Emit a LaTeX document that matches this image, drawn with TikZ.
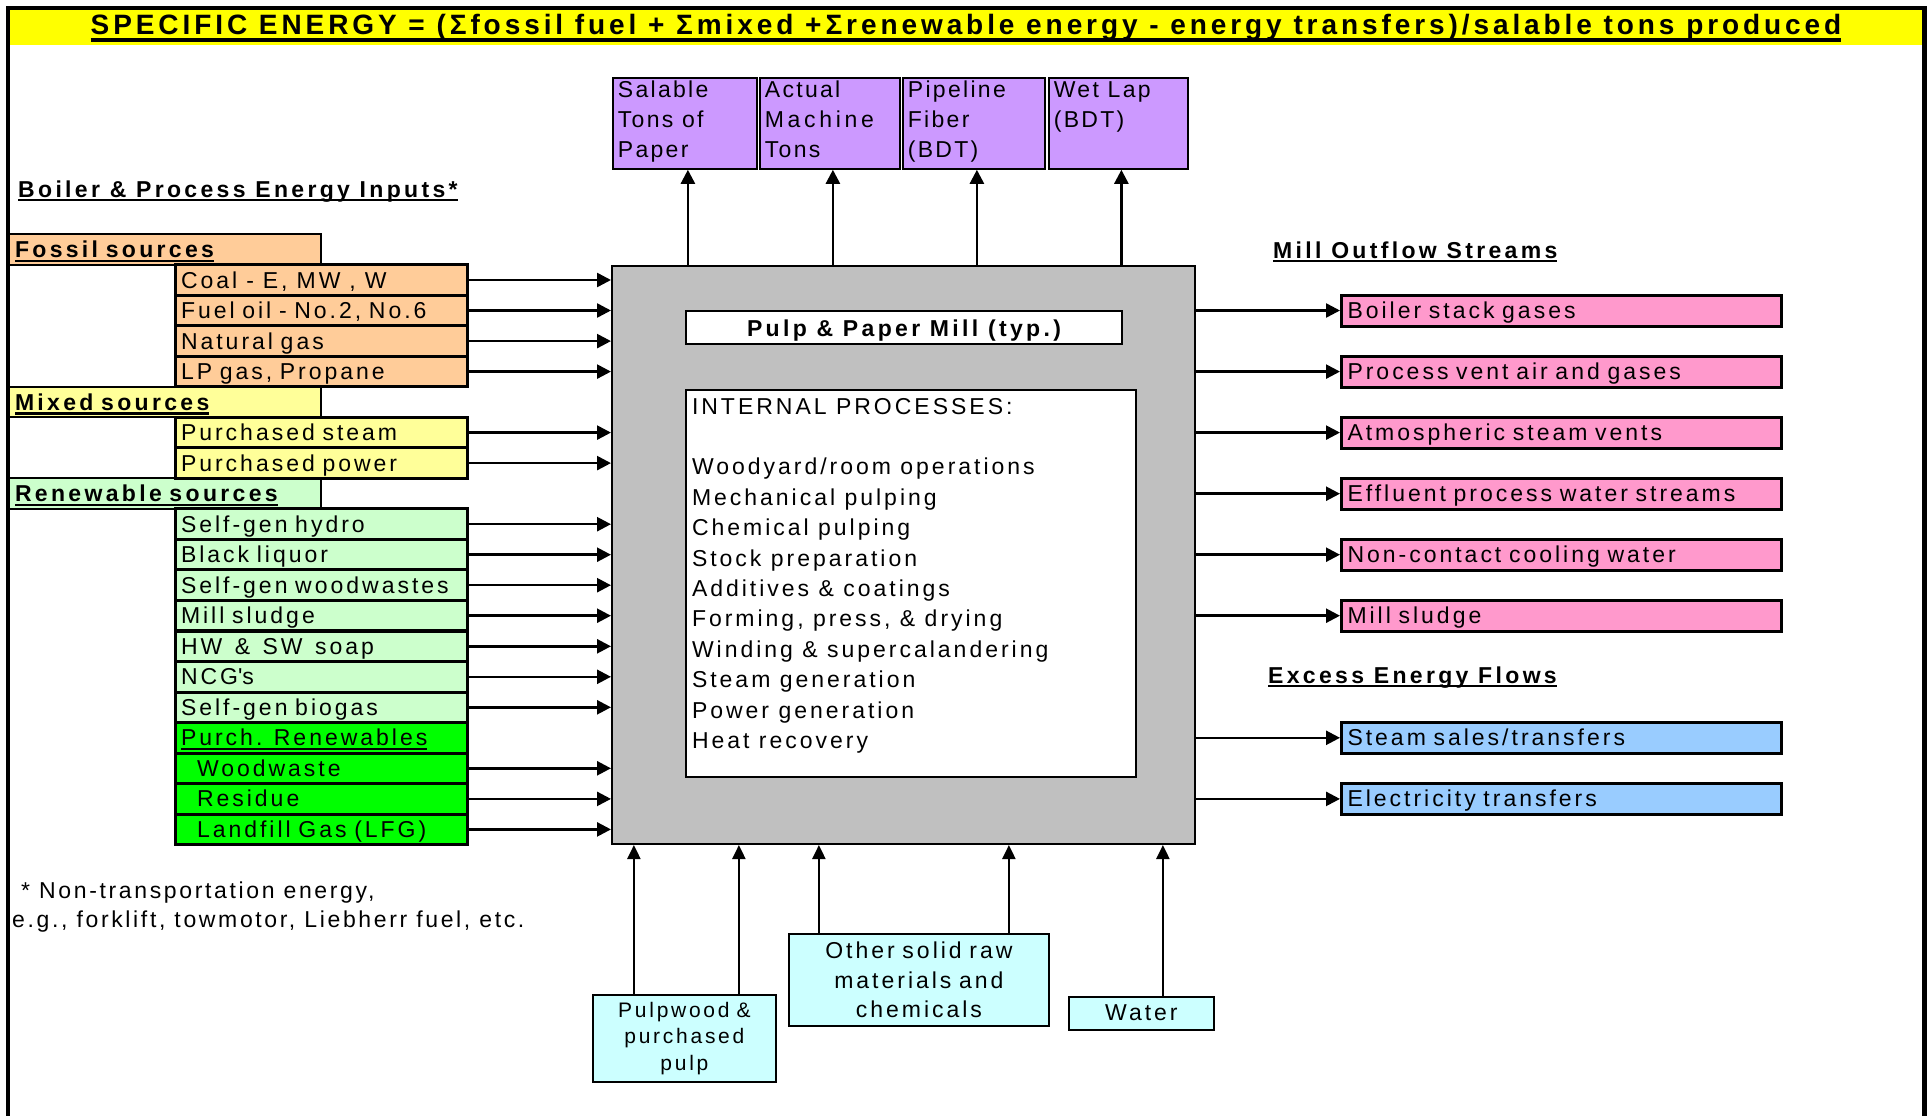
\documentclass[tikz,border=0pt]{standalone}
\usepackage{fontspec}
\setmainfont{Liberation Sans}[LetterSpace=13]
\newfontfamily\nomapfont{Liberation Sans}[LetterSpace=13]
\usetikzlibrary{arrows.meta,calc}
\definecolor{peach}{HTML}{FFCC99}
\definecolor{lyel}{HTML}{FFFF99}
\definecolor{lgreen}{HTML}{CCFFCC}
\definecolor{bgreen}{HTML}{00FF00}
\definecolor{pinkc}{HTML}{FF99CC}
\definecolor{lbluec}{HTML}{99CCFF}
\definecolor{purp}{HTML}{CC99FF}
\definecolor{lcyan}{HTML}{CCFFFF}
\definecolor{millgray}{HTML}{C0C0C0}
\definecolor{titley}{HTML}{FFFF00}
\newcommand\myul[2][2.2pt]{\setbox0=\hbox{#2}\leavevmode\rlap{\rule[-4.4pt]{\wd0}{#1}}\box0}
\newcommand\myulthick[1]{\setbox0=\hbox{#1}\leavevmode\rlap{\rule[-7pt]{\wd0}{3.5pt}}\box0}
\newcommand\boldwide{\bfseries\addfontfeature{LetterSpace=14.5}}
\begin{document}
\begin{tikzpicture}[x=1pt,y=-1pt,
  every node/.style={font=\fontsize{23}{29}\selectfont, inner sep=0pt},
  hdr/.style={draw=black, line width=2pt, anchor=west, minimum height=30.5pt,
     text width=300pt, inner xsep=6pt, align=left, text height=18pt, text depth=2pt, font=\fontsize{23}{29}\selectfont\boldwide},
  item/.style={draw=black, line width=3pt, anchor=west, minimum height=30.5pt,
     text width=281pt, inner xsep=5.5pt, align=left, text height=18pt, text depth=2pt},
  outbox/.style={draw=black, line width=3pt, anchor=west, minimum height=31pt,
     text width=428pt, inner xsep=6pt, align=left, text height=17.5pt, text depth=2pt},
  pbox/.style={draw=black, line width=1.8pt, fill=purp, anchor=north west, inner xsep=5pt, inner ysep=0pt},
  cbox/.style={draw=black, line width=1.8pt, fill=lcyan, anchor=north west, align=center},
  heading/.style={anchor=base west, font=\fontsize{23}{29}\selectfont\boldwide},
  arr/.style={line width=2.5pt, -{Triangle[length=14pt,width=14pt]}},
  arrb/.style={line width=2.2pt, -{Triangle[length=14pt,width=13pt]}}
]
\useasboundingbox (0,0) rectangle (1928,1116);
\fill[white] (0,0) rectangle (1928,1116);
% title band
\fill[titley] (8,8) rectangle (1924,45);
\node[anchor=base, font=\fontsize{28}{32}\selectfont\bfseries\addfontfeature{LetterSpace=14}] (title) at (966,35)
  {\myulthick{SPECIFIC ENERGY = (Σfossil fuel + Σmixed +Σrenewable energy - energy transfers)/salable tons produced}};
% frame
\draw[line width=4.5pt] (8,1116) -- (8,8) -- (1924.5,8) -- (1924.5,1116);

% headings
\node[heading] (hin) at (18,197) {\myul{Boiler \& Process Energy Inputs*}};
\node[heading] (hout) at (1273,258) {\myul{Mill Outflow Streams}};
\node[heading] (hexc) at (1268,683) {\myul{Excess Energy Flows}};

% main box
\node[draw=black, line width=2pt, fill=millgray, anchor=north west, minimum width=583pt, minimum height=578pt] (main) at (611,265) {};
\node[draw=black, line width=2pt, fill=white, anchor=north west, minimum width=436pt, minimum height=33pt,
  text height=19pt, text depth=2pt, font=\fontsize{23}{29}\selectfont\boldwide] (mill) at (685,310) {Pulp \& Paper Mill (typ.)};
\node[draw=black, line width=2pt, fill=white, anchor=north west, inner xsep=6pt, inner ysep=0pt] (internal) at (685,389)
 {\begin{minipage}[t][387pt][t]{438pt}\fontsize{23}{30.4}\selectfont\rule{0pt}{24pt}INTERNAL PROCESSES:\\
 \mbox{}\\
 Woodyard/room operations\\
 Mechanical pulping\\
 Chemical pulping\\
 Stock preparation\\
 Additives \& coatings\\
 Forming, press, \& drying\\
 Winding \& supercalandering\\
 Steam generation\\
 Power generation\\
 Heat recovery\end{minipage}};

% left headers
\node[hdr, fill=peach] (hfossil) at (8,249.5) {\myul{Fossil sources}};
\node[hdr, fill=lyel] (hmixed) at (8,402.1) {\myul{Mixed sources}};
\node[hdr, fill=lgreen] (hrenew) at (8,493.7) {\myul{Renewable sources}};

% left items
\node[item, fill=peach] (coal) at (174,280.0) {\spaceskip=9pt Coal - E, MW , W};
\node[item, fill=peach] (fuel) at (174,310.5) {Fuel oil - No.2, No.6};
\node[item, fill=peach] (natgas) at (174,341.1) {Natural gas};
\node[item, fill=peach] (lpgas) at (174,371.6) {LP gas, Propane};
\node[item, fill=lyel] (psteam) at (174,432.6) {Purchased steam};
\node[item, fill=lyel] (ppower) at (174,463.1) {Purchased power};
\node[item, fill=lgreen] (hydro) at (174,524.2) {Self-gen hydro};
\node[item, fill=lgreen] (blackliq) at (174,554.7) {Black liquor};
\node[item, fill=lgreen] (woodw) at (174,585.2) {Self-gen woodwastes};
\node[item, fill=lgreen] (sludge) at (174,615.7) {Mill sludge};
\node[item, fill=lgreen] (soap) at (174,646.3) {\spaceskip=12.5pt HW \& SW soap};
\node[item, fill=lgreen] (ncg) at (174,676.8) {NCG{\nomapfont'}s};
\node[item, fill=lgreen] (biogas) at (174,707.3) {Self-gen biogas};
\node[item, fill=bgreen] (purch) at (174,737.8) {\myul[1.8pt]{Purch. Renewables}};
\node[item, fill=bgreen] (wood) at (174,768.3) {\hspace*{16pt}Woodwaste};
\node[item, fill=bgreen] (residue) at (174,798.9) {\hspace*{16pt}Residue};
\node[item, fill=bgreen] (lfg) at (174,829.4) {\hspace*{16pt}Landfill Gas (LFG)};

\foreach \n in {coal,fuel,natgas,lpgas,psteam,ppower,hydro,blackliq,woodw,sludge,soap,ncg,biogas,wood,residue,lfg}
  \draw[arr] (\n.east) -- (\n.east -| main.west);

% top products
\node[pbox] (salable) at (612,77) {\begin{minipage}[t][91pt][t]{134pt}\fontsize{23}{30}\selectfont\addfontfeature{LetterSpace=10}\rule{0pt}{20pt}Salable\\Tons of\\Paper\end{minipage}};
\node[pbox] (actual) at (759,77) {\begin{minipage}[t][91pt][t]{130pt}\fontsize{23}{30}\selectfont\addfontfeature{LetterSpace=10}\rule{0pt}{20pt}Actual\\{\addfontfeature{LetterSpace=16}Machine}\\Tons\end{minipage}};
\node[pbox] (pipeline) at (902,77) {\begin{minipage}[t][91pt][t]{132pt}\fontsize{23}{30}\selectfont\addfontfeature{LetterSpace=10}\rule{0pt}{20pt}Pipeline\\Fiber\\(BDT)\end{minipage}};
\node[pbox] (wetlap) at (1048,77) {\begin{minipage}[t][91pt][t]{129pt}\fontsize{23}{30}\selectfont\addfontfeature{LetterSpace=10}\rule{0pt}{20pt}Wet Lap\\(BDT)\end{minipage}};
\foreach \n in {salable,actual,pipeline,wetlap}
  \draw[arr] ([xshift=3pt]\n.south |- main.north) -- ([xshift=3pt]\n.south);

% right outflows
\node[outbox, fill=pinkc] (stack) at (1340,310.5) {Boiler stack gases};
\node[outbox, fill=pinkc] (vent) at (1340,371.6) {Process vent air and gases};
\node[outbox, fill=pinkc] (atmo) at (1340,432.6) {Atmospheric steam vents};
\node[outbox, fill=pinkc] (effl) at (1340,493.7) {Effluent process water streams};
\node[outbox, fill=pinkc] (cool) at (1340,554.7) {Non-contact cooling water};
\node[outbox, fill=pinkc] (osludge) at (1340,615.7) {Mill sludge};
\node[outbox, fill=lbluec] (ssales) at (1340,737.8) {Steam sales/transfers};
\node[outbox, fill=lbluec] (elec) at (1340,798.9) {Electricity transfers};
\foreach \n in {stack,vent,atmo,effl,cool,osludge,ssales,elec}
  \draw[arr] (\n.west -| main.east) -- (\n.west);

% bottom raw materials
\node[cbox, minimum width=183pt, minimum height=87pt, text width=175pt, font=\fontsize{21}{26.5}\selectfont] (pulpwood) at (592,994) {Pulpwood \&\\purchased\\pulp};
\node[cbox, minimum width=260pt, minimum height=92pt, text width=250pt, font=\fontsize{23}{29.5}\selectfont] (other) at (788,933) {Other solid raw\\materials and\\chemicals};
\node[cbox, minimum width=145pt, minimum height=33pt, text width=140pt, text height=17pt, text depth=2pt] (water) at (1068,996) {Water};
\draw[arrb] ([xshift=-50.5pt]pulpwood.north) -- ([xshift=-50.5pt]pulpwood.north |- main.south);
\draw[arrb] ([xshift=54.5pt]pulpwood.north) -- ([xshift=54.5pt]pulpwood.north |- main.south);
\draw[arrb] ([xshift=-100pt]other.north) -- ([xshift=-100pt]other.north |- main.south);
\draw[arrb] ([xshift=90pt]other.north) -- ([xshift=90pt]other.north |- main.south);
\draw[arrb] ([xshift=21.5pt]water.north) -- ([xshift=21.5pt]water.north |- main.south);

% footnote
\node[anchor=base west, font=\fontsize{23}{29}\selectfont\addfontfeature{LetterSpace=11.5}] (fn1) at (21,898) {* Non-transportation energy,};
\node[anchor=base west, font=\fontsize{23}{29}\selectfont\addfontfeature{LetterSpace=11.5}] (fn2) at (12,927) {e.g., forklift, towmotor, Liebherr fuel, etc.};
\end{tikzpicture}
\end{document}
